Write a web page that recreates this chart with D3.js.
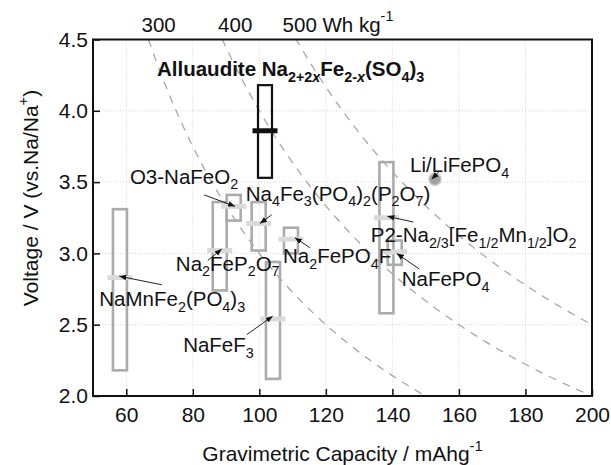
<!DOCTYPE html>
<html>
<head>
<meta charset="utf-8">
<script src="https://cdn.jsdelivr.net/npm/d3@7"></script>
<style>
  body { margin: 0; background: #fff; }
  text { font-family: "Liberation Sans", Arial, sans-serif; fill: #111; }
</style>
</head>
<body>
<div class="chart"></div>
<script>
// materials: box = voltage range, bar = average voltage
const materials = ["Alluaudite", "NaMnFe2(PO4)3", "Na2FeP2O7", "O3-NaFeO2", "Na4Fe3(PO4)2(P2O7)",
  "Na2FePO4F", "NaFeF3", "P2-Na2/3[Fe1/2Mn1/2]O2", "NaFePO4"];
const capacity = [101.7, 58.1, 88.1, 92.3, 99.8, 109.5, 104.1, 138.2, 140.7];
const vMax = [4.18, 3.31, 3.36, 3.41, 3.36, 3.18, 2.94, 3.64, 3.09];
const vMin = [3.53, 2.18, 2.74, 3.23, 3.02, 3.00, 2.12, 2.58, 2.92];
const vAvg = [3.86, 2.83, 3.02, 3.33, 3.21, 3.10, 2.54, 3.25, 3.01];

// reference point Li/LiFePO4
const liCap = 152.8, liV = 3.52;

// labels (anchor in data units) and arrows
const labelText = ["O3-NaFeO_{2}", "Na_{4}Fe_{3}(PO_{4})_{2}(P_{2}O_{7})", "Na_{2}FeP_{2}O_{7}",
  "NaMnFe_{2}(PO_{4})_{3}", "NaFeF_{3}", "Na_{2}FePO_{4}F", "Li/LiFePO_{4}",
  "P2-Na_{2/3}[Fe_{1/2}Mn_{1/2}]O_{2}", "NaFePO_{4}"];
const labelC = [61.1, 95.9, 74.9, 51.9, 77.1, 107.1, 145.3, 133.5, 142.8];
const labelV = [3.49, 3.37, 2.88, 2.63, 2.31, 2.93, 3.57, 3.08, 2.77];
const arrowFromC = [83.4, 103.7, 84.5, 70.7, 96.2, 115.2, 154.3, 146.3, 148.1];
const arrowFromV = [3.41, 3.27, 2.95, 2.78, 2.43, 3.04, 3.58, 3.22, 2.89];
const arrowToC = [92.7, 100.2, 88.7, 57.9, 104.0, 110.7, 151.8, 138.5, 141.3];
const arrowToV = [3.33, 3.21, 3.03, 2.84, 2.56, 3.11, 3.52, 3.26, 3.00];

// iso energy density lines (Wh/kg)
const energies = [300, 400, 500];
const energyLabels = ["300", "400", "500 Wh kg^{-1}"];
const energyLabelC = [64.6, 87.6, 107];

const xTicks = [60, 80, 100, 120, 140, 160, 180, 200];
const yTicks = [2.0, 2.5, 3.0, 3.5, 4.0, 4.5];

const W = 611, H = 465;
const pLeft = 93, pRight = 592, pTop = 39.5, pBottom = 396;
const fs = 20.5;

const svg = d3.select(".chart").append("svg")
  .attr("width", W).attr("height", H);

const x = d3.scaleLinear().domain([50, 200]).range([pLeft, pRight]);
const y = d3.scaleLinear().domain([2, 4.5]).range([pBottom, pTop]);

// writes a string with _{sub} ^{sup} and $italic$ as tspans
function rich(t, str, size) {
  const parts = str.match(/(_\{[^}]*\}|\^\{[^}]*\}|[^_^]+)/g);
  let shift = 0;
  parts.forEach(p => {
    let target = 0, txt = p, small = false;
    if (p.startsWith("_{")) { target = 0.28 * size; txt = p.slice(2, -1); small = true; }
    else if (p.startsWith("^{")) { target = -0.5 * size; txt = p.slice(2, -1); small = true; }
    const bits = txt.split(/(\$[^$]*\$)/).filter(b => b.length);
    bits.forEach((b, i) => {
      const ts = t.append("tspan").text(b.replace(/\$/g, ""));
      if (i == 0) { ts.attr("dy", target - shift); shift = target; }
      if (small) ts.attr("font-size", size * 0.7);
      if (b.startsWith("$")) ts.attr("font-style", "italic");
    });
  });
}

const defs = svg.append("defs");
defs.append("clipPath").attr("id", "clip")
  .append("rect").attr("x", pLeft).attr("y", pTop)
  .attr("width", pRight - pLeft).attr("height", pBottom - pTop);

defs.append("marker")
  .attr("id", "head").attr("viewBox", "0 0 10 10")
  .attr("refX", 10).attr("refY", 5)
  .attr("markerWidth", 7).attr("markerHeight", 7)
  .attr("markerUnits", "userSpaceOnUse")
  .attr("orient", "auto")
  .append("path").attr("d", "M0,1 L10,5 L0,9 Z").attr("fill", "#111");

// grid
svg.append("g").selectAll("line").data(xTicks.slice(0, -1)).enter().append("line")
  .attr("x1", d => x(d)).attr("x2", d => x(d)).attr("y1", pTop).attr("y2", pBottom)
  .attr("stroke", "#d4d4d4").attr("stroke-dasharray", "1,2");
svg.append("g").selectAll("line").data(yTicks.slice(1, -1)).enter().append("line")
  .attr("y1", d => y(d)).attr("y2", d => y(d)).attr("x1", pLeft).attr("x2", pRight)
  .attr("stroke", "#d4d4d4").attr("stroke-dasharray", "1,2");

// iso energy curves
const curves = svg.append("g").attr("clip-path", "url(#clip)");
energies.forEach(E => {
  const pts = d3.range(E / 4.6, 201, 1).map(c => [c, E / c]);
  curves.append("path").datum(pts)
    .attr("fill", "none").attr("stroke", "#a8a8a8").attr("stroke-width", 1.3)
    .attr("stroke-dasharray", "8,7")
    .attr("d", d3.line().x(d => x(d[0])).y(d => y(d[1])));
});

// axes
const xAxis = svg.append("g").attr("transform", `translate(0,${pBottom})`)
  .call(d3.axisBottom(x).tickValues(xTicks).tickSizeInner(-7).tickSizeOuter(0).tickPadding(11).tickFormat(d3.format("d")));
const yAxis = svg.append("g").attr("transform", `translate(${pLeft},0)`)
  .call(d3.axisLeft(y).tickValues(yTicks).tickSizeInner(-7).tickSizeOuter(0).tickPadding(5).tickFormat(d3.format(".1f")));
[xAxis, yAxis].forEach(a => {
  a.select(".domain").remove();
  a.selectAll("line").attr("stroke", "#111").attr("stroke-width", 1.5);
  a.selectAll("text").attr("font-size", 21).attr("fill", "#111")
    .style("font-family", '"Liberation Sans", Arial, sans-serif');
});

// frame
svg.append("rect").attr("x", pLeft).attr("y", pTop)
  .attr("width", pRight - pLeft).attr("height", pBottom - pTop)
  .attr("fill", "none").attr("stroke", "#111").attr("stroke-width", 2);

// boxes and average bars
const plot = svg.append("g");
materials.forEach((m, i) => {
  const first = i == 0;
  plot.append("rect")
    .attr("x", x(capacity[i]) - 7).attr("width", 14)
    .attr("y", y(vMax[i])).attr("height", y(vMin[i]) - y(vMax[i]))
    .attr("fill", "none")
    .attr("stroke", first ? "#111" : "#ababab")
    .attr("stroke-width", first ? 2.2 : 2.6);
});
materials.forEach((m, i) => {
  const first = i == 0;
  plot.append("line")
    .attr("x1", x(capacity[i]) - 12.5).attr("x2", x(capacity[i]) + 12.5)
    .attr("y1", y(vAvg[i])).attr("y2", y(vAvg[i]))
    .attr("stroke", first ? "#111" : "#dadada")
    .attr("stroke-width", 5);
});

plot.append("circle").attr("cx", x(liCap)).attr("cy", y(liV)).attr("r", 6)
  .attr("fill", "#a2a2a2").attr("stroke", "#c8c8c8").attr("stroke-width", 1.5);

// arrows and labels
labelText.forEach((s, i) => {
  plot.append("line")
    .attr("x1", x(arrowFromC[i])).attr("y1", y(arrowFromV[i]))
    .attr("x2", x(arrowToC[i])).attr("y2", y(arrowToV[i]))
    .attr("stroke", "#222").attr("stroke-width", 1)
    .attr("marker-end", "url(#head)");
  const t = plot.append("text").attr("x", x(labelC[i])).attr("y", y(labelV[i]))
    .attr("font-size", fs);
  rich(t, s, fs);
});

// title of highlighted material
const title = svg.append("text").attr("x", 157).attr("y", 76)
  .attr("font-size", 20.5).attr("font-weight", "bold");
rich(title, "Alluaudite Na_{2+2$x$}Fe_{2-$x$}(SO_{4})_{3}", 20.5);

// energy labels above the frame
energyLabels.forEach((s, i) => {
  const t = svg.append("text").attr("x", x(energyLabelC[i])).attr("y", 31.7)
    .attr("font-size", fs);
  rich(t, s, fs);
});

// axis titles
const xt = svg.append("text").attr("x", (pLeft + pRight) / 2).attr("y", 461)
  .attr("text-anchor", "middle").attr("font-size", 21);
rich(xt, "Gravimetric Capacity / mAhg^{-1}", 21);

const yt = svg.append("text").attr("transform", "translate(38,198) rotate(-90)")
  .attr("text-anchor", "middle").attr("font-size", 21);
rich(yt, "Voltage / V (vs.Na/Na^{+})", 21);
</script>
</body>
</html>
